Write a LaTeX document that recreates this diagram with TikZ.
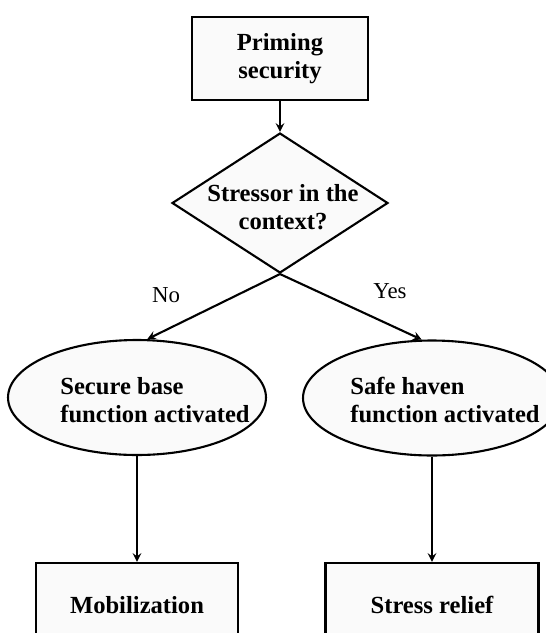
\documentclass[tikz,border=0pt]{standalone}
\usepackage{fontspec}
\setmainfont{Liberation Serif}
\usetikzlibrary{shapes.geometric}

\begin{document}
\begin{tikzpicture}[x=0.02cm, y=-0.02cm,
	box/.style={draw, very thick, fill=gray!4, align=center, font=\fontsize{14}{16}\selectfont\bfseries},
	choice/.style={diamond, draw, very thick, fill=gray!4, minimum width=4.32cm, minimum height=2.8cm, inner sep=0pt},
	func/.style={ellipse, draw, very thick, fill=gray!4, minimum width=5.16cm, minimum height=2.3cm, inner sep=0pt},
	txt/.style={inner sep=0pt, align=left, font=\fontsize{14}{16}\selectfont\bfseries},
	lbl/.style={font=\fontsize{13}{15}\selectfont},
	arr/.style={-stealth, very thick}]

	\useasboundingbox (0,0) rectangle (546,633);
	\clip (0,0) rectangle (546,633);

	\node[box, minimum width=3.52cm, minimum height=1.66cm] (prime) at (280,58.5) {Priming\\security};

	\node[choice] (stress) at (280,203) {};
	\node[txt, align=center] (stressT) at (283,207) {Stressor in the\\context?};

	\node[func] (secure) at (137,397.5) {};
	\node[txt] (secureT) at (155,400) {Secure base\\function activated};
	\node[func] (safe) at (432,398) {};
	\node[txt] (safeT) at (445,400) {Safe haven\\function activated};

	\node[box, minimum width=4.04cm, minimum height=1.68cm] (mob) at (137,605) {Mobilization};
	\node[box, minimum width=4.26cm, minimum height=1.68cm] (relief) at (432,605) {Stress relief};

	\node[lbl] (no) at (166,295) {No};
	\node[lbl] (yes) at (390,291) {Yes};

	\draw[arr] (prime) -- (stress);
	\draw[arr] (stress.south) -- (secure.80);
	\draw[arr] (stress.south) -- (safe.100);
	\draw[arr] (secure) -- (mob);
	\draw[arr] (safe) -- (relief);
\end{tikzpicture}
\end{document}
